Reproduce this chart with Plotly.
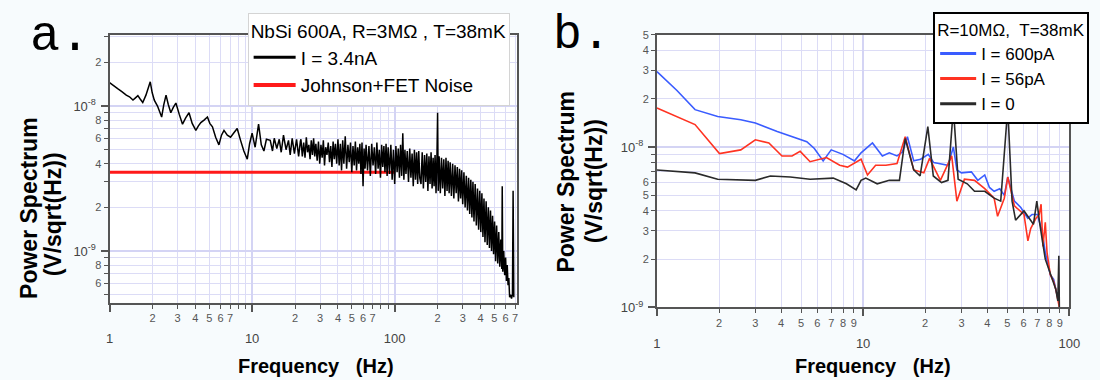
import math
import plotly.graph_objects as go

# ---------------- Panel a : NbSi 600A, R=3MOhm, T=38mK ----------------
# frequency (Hz) and noise (nV/sqrt(Hz))
a_freq = [1, 1.07, 1.14, 1.22, 1.31, 1.38, 1.46, 1.52, 1.58, 1.64, 1.71, 1.8, 1.87, 1.93, 1.99,
          2.06, 2.17, 2.25, 2.32, 2.4, 2.49, 2.58, 2.69, 2.8, 2.92, 3.08, 3.25, 3.42, 3.61, 3.8,
          4.03, 4.2, 4.37, 4.6, 4.86, 5.05, 5.27, 5.55, 5.85, 6.1, 6.35, 6.7, 7.06, 7.5, 7.86,
          8.3, 8.75, 9.25, 9.6, 10, 10.5, 11.1, 11.6, 12.1, 12.6, 13.4, 13.9, 14.3, 14.9, 15.5,
          16.0, 16.6, 17.3, 18.0, 18.5, 19.1, 19.8, 20.5, 21.2, 21.8,
          22, 22.5, 23, 23.5, 24, 24.5, 25, 25.5, 26, 26.5, 27, 27.5, 28,
          28.6, 29.2, 29.8, 30.4, 31, 31.6, 32.2, 32.8, 33.5, 34.2, 34.9, 35.6, 36.3, 37, 37.7,
          38.4, 39.2, 40,
          40.8, 41.6, 42.4, 43.2, 44, 45, 46, 47, 48, 49, 50, 51, 52, 53, 54, 55, 56, 57, 58,
          59, 60, 61, 62, 63,
          64.5, 66, 67.5, 69, 70.5, 72, 73.5, 75, 76.5, 78, 79.5, 81, 82.5, 84, 85.5, 87, 88.5,
          90, 92, 94, 96, 98, 100, 102, 104, 106, 108, 110, 112, 114, 116, 118, 120,
          122.5, 125, 127.5, 130, 132.5, 135, 137.5, 140, 142.5, 145, 147.5, 150,
          153, 156, 159, 162, 165, 168, 171, 174, 177, 180, 183, 186, 189, 192, 195, 198,
          200, 202, 205, 209, 213, 217, 221, 225, 229, 233, 237, 241, 245,
          250, 255, 260, 265, 270, 275, 280, 285, 290, 295, 300,
          306, 312, 318, 324, 330, 336, 342, 348, 354, 360,
          367, 374, 381, 388, 395, 402, 409, 416, 423, 430,
          438, 446, 454, 462, 470, 478, 486, 494, 502, 510,
          519, 528, 537, 546, 555, 564, 568, 573, 582, 591, 600, 608, 616, 624, 632, 640,
          650, 660, 670, 677, 685]
a_noise = [14.5, 13.9, 13.2, 12.6, 11.9, 11.6, 11.0, 11.4, 11.8, 11.2, 10.6, 11.9, 13.2, 14.7, 12.4,
           11.0, 10.0, 9.0, 8.4, 10.2, 11.9, 10.3, 9.0, 9.8, 10.5, 8.8, 7.5, 8.3, 9.0, 7.6,
           6.8, 7.3, 7.7, 8.0, 8.4, 7.6, 7.2, 6.1, 5.4, 6.3, 6.8, 6.3, 6.1, 6.6, 7.0,
           5.8, 4.9, 4.3, 5.5, 6.5, 5.2, 7.5, 5.4, 4.9, 5.9, 5.8, 4.9, 6.0, 5.1, 5.9,
           4.8, 6.3, 5.0, 5.8, 4.6, 6.0, 4.7, 5.9, 4.5, 5.7,
           5.9, 4.5, 5.6, 4.4, 6.1, 4.8, 5.4, 4.3, 5.8, 4.6, 6.0, 4.5, 5.5,
           4.2, 5.7, 4.0, 5.4, 4.4, 5.8, 3.9, 5.2, 4.6, 5.6, 4.1, 5.3, 3.8, 5.7, 4.3,
           5.5, 4.0, 5.9,
           3.9, 5.5, 3.6, 5.8, 4.0, 6.2, 3.7, 5.4, 4.1, 5.6, 3.5, 5.3, 3.9, 5.7, 3.6, 5.2, 4.0, 5.5, 3.4,
           5.6, 2.8, 5.1, 3.7, 5.4,
           3.6, 5.3, 3.3, 5.5, 3.9, 5.2, 3.4, 5.6, 3.7, 5.0, 3.2, 5.4, 3.8, 5.3, 3.5, 5.5, 3.3,
           5.2, 3.4, 5.4, 3.1, 5.0, 2.9, 5.3, 3.5, 5.1, 3.2, 5.4, 3.3, 6.5, 3.1, 5.0, 3.4,
           4.9, 3.0, 5.1, 3.2, 4.7, 2.8, 5.0, 3.1, 4.8, 2.9, 4.9, 3.2,
           2.9, 4.8, 2.7, 4.6, 3.0, 4.7, 2.6, 4.5, 2.9, 4.8, 2.7, 4.4, 2.8, 4.6, 2.5, 4.5,
           9.0, 2.6, 4.5, 2.5, 4.4, 2.7, 4.3, 2.4, 4.4, 2.6, 4.2, 2.5, 4.1,
           2.4, 4.0, 2.3, 3.9, 2.5, 3.8, 2.2, 3.7, 2.3, 3.6, 2.1,
           3.5, 2.0, 3.3, 1.9, 3.2, 1.8, 3.1, 1.7, 3.0, 1.6,
           2.9, 1.5, 2.7, 1.4, 2.6, 1.35, 2.5, 1.25, 2.3, 1.15,
           2.2, 1.1, 2.0, 1.05, 1.9, 1.0, 1.75, 0.95, 1.6, 0.85,
           1.5, 0.82, 1.35, 0.78, 1.2, 0.75, 2.8, 0.72, 1.0, 0.68, 0.9, 0.62, 0.8, 0.58, 0.65, 0.48,
           0.5, 0.47, 0.5, 2.6, 0.48]
johnson_freq = [1, 100]
johnson_noise = [3.5, 3.5]

# ---------------- Panel b : R=10MOhm, T=38mK ----------------
b600_freq = [1, 1.25, 1.53, 1.97, 2.55, 3.0, 3.83, 4.5, 5.33, 5.8, 6.4, 7.0, 7.98, 9.08, 9.77,
             11.1, 12.4, 13.4, 14.6, 15.5, 16.4, 17.6, 19.0, 20.7, 22.0, 23.3, 25.8, 27.4, 28.5,
             30, 33.5, 36, 38.9, 41, 43.2, 46, 48.4, 50.3, 52, 54.2, 58.2, 62.9, 66, 70, 73.8,
             76.5, 80.9, 84, 86, 89.5]
b600_noise = [29.5, 22.5, 17.1, 15.5, 14.8, 14.1, 12.5, 11.7, 10.8, 9.8, 8.2, 9.6, 9.0, 8.2, 9.2,
              10.6, 8.8, 9.2, 8.8, 9.3, 11.6, 8.2, 8.4, 9.0, 8.0, 7.9, 7.7, 10.0, 7.2,
              6.9, 7.0, 6.2, 6.7, 5.6, 5.3, 5.5, 5.0, 6.5, 5.5, 4.6, 4.2, 3.6, 3.8, 3.8, 3.0,
              2.2, 1.6, 1.5, 1.3, 1.05]
b56_freq = [1, 1.25, 1.53, 2.01, 2.55, 3.0, 3.49, 4.04, 4.52, 4.95, 5.53, 6.64, 7.7, 8.4, 9.25,
            9.77, 10.5, 11.5, 12.9, 14.6, 16.0, 17.6, 19.7, 21.0, 23.7, 26.9, 28.5, 31, 34.7,
            38.9, 43.2, 44.9, 48.4, 50.3, 54.2, 60.3, 63, 65, 69, 71.5, 73, 74.5, 76.5, 78,
            80.9, 84, 86, 89.5]
b56_noise = [17.5, 15.5, 13.8, 9.1, 9.6, 11.1, 10.6, 8.8, 8.8, 9.4, 8.1, 8.6, 7.7, 7.5, 8.1,
             8.4, 6.7, 7.7, 7.7, 7.9, 11.6, 7.2, 6.9, 8.5, 6.2, 8.8, 4.6, 6.3, 6.2,
             5.5, 4.8, 3.7, 4.8, 6.5, 4.3, 3.8, 2.6, 3.1, 3.6, 3.8, 4.4, 2.4, 3.4, 2.2,
             1.6, 1.45, 1.3, 1.0]
b0_freq = [1, 1.53, 1.97, 2.55, 3.0, 3.55, 4.43, 5.53, 7.16, 8.3, 9.08, 9.25, 9.77, 10.3, 11.7,
           13.4, 15.0, 16.0, 17.6, 18.9, 20.6, 21.9, 24.0, 25.8, 27.4, 28.9, 32.0, 34.7, 38.9,
           43.2, 46.5, 50.3, 52.8, 54.9, 60.3, 67.0, 69.6, 72.0, 76.5, 81.0, 86.0, 88.0, 89.0, 89.5]
b0_noise = [7.2, 6.9, 6.3, 6.2, 6.2, 6.6, 6.5, 6.3, 6.4, 5.9, 5.5, 5.4, 6.2, 6.4, 5.9,
            6.2, 6.2, 11.3, 7.2, 6.6, 13.4, 6.6, 6.0, 6.2, 17.5, 6.3, 5.9, 5.3, 5.3,
            4.8, 4.6, 17.5, 4.6, 3.5, 4.0, 3.3, 4.6, 3.3, 2.0, 1.6, 1.3, 1.1, 2.1, 1.0]

# tick labels
a_x_minor_labels = [2, 3, 4, 5, 6, 7, 20, 30, 40, 50, 60, 70, 200, 300, 400, 500, 600, 700]
a_x_minor_unlabeled = [8, 9, 80, 90]
b_x_minor_labels = [2, 3, 4, 5, 6, 7, 8, 9, 20, 30, 40, 50, 60, 70, 80, 90]
decades_x_a = [1, 10, 100]
decades_x_b = [1, 10, 100]
decade_x_text = ["1", "10", "100"]
a_y_labels = [2e-8, 8e-9, 6e-9, 4e-9, 2e-9, 8e-10, 6e-10]
a_y_unlabeled = [3e-8, 9e-9, 7e-9, 5e-9, 3e-9, 9e-10, 7e-10, 5e-10]
b_y_labels = [5e-8, 4e-8, 3e-8, 2e-8, 6e-9, 5e-9, 4e-9, 3e-9, 2e-9]
b_y_unlabeled = [9e-9, 8e-9, 7e-9]
y_decades = [1e-9, 1e-8]
y_decade_text = ["10<sup>-9</sup>", "10<sup>-8</sup>"]

NV = 1e-9
W, H = 1100, 380
FONT = "Liberation Sans, Arial, sans-serif"
MONO = "Liberation Mono, Courier New, monospace"
GRID = "#dcdcf6"
AX = "#555555"


def digit(v):
    return ("%g" % v)[0]


fig = go.Figure()

# ---- panel a traces
fig.add_trace(go.Scatter(x=johnson_freq, y=[v * NV for v in johnson_noise], mode="lines",
                         line=dict(color="#ff1a1a", width=3), showlegend=False,
                         xaxis="x", yaxis="y"))
fig.add_trace(go.Scatter(x=a_freq, y=[v * NV for v in a_noise], mode="lines",
                         line=dict(color="black", width=1.5), showlegend=False,
                         xaxis="x", yaxis="y"))
fig.add_trace(go.Scatter(x=[None], y=[None], mode="lines", name="I = 3.4nA",
                         line=dict(color="black", width=3), legend="legend", xaxis="x", yaxis="y"))
fig.add_trace(go.Scatter(x=[None], y=[None], mode="lines", name="Johnson+FET Noise",
                         line=dict(color="#ff1a1a", width=4), legend="legend", xaxis="x", yaxis="y"))

# ---- panel b traces
fig.add_trace(go.Scatter(x=b600_freq, y=[v * NV for v in b600_noise], mode="lines",
                         line=dict(color="#3a5cff", width=1.6), showlegend=False,
                         xaxis="x2", yaxis="y2"))
fig.add_trace(go.Scatter(x=b56_freq, y=[v * NV for v in b56_noise], mode="lines",
                         line=dict(color="#ff3322", width=1.6), showlegend=False,
                         xaxis="x2", yaxis="y2"))
fig.add_trace(go.Scatter(x=b0_freq, y=[v * NV for v in b0_noise], mode="lines",
                         line=dict(color="#2a2a2a", width=1.6), showlegend=False,
                         xaxis="x2", yaxis="y2"))
for nm, col in [("I = 600pA", "#3a5cff"), ("I = 56pA", "#ff3322"), ("I = 0", "#2a2a2a")]:
    fig.add_trace(go.Scatter(x=[None], y=[None], mode="lines", name=nm,
                             line=dict(color=col, width=3), legend="legend2",
                             xaxis="x2", yaxis="y2"))

# empty traces so that the decade-tick overlay axes get drawn
for xa, ya in [("x3", "y"), ("x4", "y2"), ("x", "y3"), ("x2", "y4")]:
    fig.add_trace(go.Scatter(x=[None], y=[None], mode="lines", showlegend=False,
                             hoverinfo="skip", xaxis=xa, yaxis=ya))

xa_dom = [107 / W, 520 / W]
xb_dom = [662 / W, 1080 / W]
ya_dom = [1 - 308 / H, 1 - 30 / H]
yb_dom = [1 - 313 / H, 1 - 30 / H]
xa_rng = [0, math.log10(720)]
xb_rng = [0, 2]
ya_rng = [math.log10(4.4e-10), math.log10(3.1e-8)]
yb_rng = [-9, math.log10(5e-8)]

common = dict(type="log", showline=True, linecolor=AX, linewidth=2, mirror=True,
              ticks="outside", ticklen=4, tickcolor=AX, tickwidth=1,
              showgrid=True, gridcolor=GRID, gridwidth=1, zeroline=False,
              tickfont=dict(family=FONT, size=11, color="#555555"))


def minor(vals):
    return dict(tickvals=vals, ticks="outside", ticklen=4, tickcolor=AX,
                showgrid=True, gridcolor=GRID, gridwidth=1)


def overlay(dom_axis, anchor, rng, vals, text, side, standoff):
    return dict(type="log", overlaying=dom_axis, anchor=anchor, range=rng, side=side,
                tickvals=vals, ticktext=text, ticks="outside", ticklen=8, tickcolor=AX,
                tickwidth=1.5, showgrid=True, gridcolor="#d4d4f4", gridwidth=1.5,
                showline=False, zeroline=False, ticklabelstandoff=standoff,
                tickfont=dict(family=FONT, size=13, color="#444444"))


fig.update_layout(
    width=W, height=H, autosize=False,
    margin=dict(l=0, r=0, t=0, b=0),
    paper_bgcolor="#f7fbfd", plot_bgcolor="white",
    font=dict(family=FONT, color="black"),
    xaxis=dict(domain=xa_dom, anchor="y", range=xa_rng, tickvals=a_x_minor_labels,
               ticktext=[digit(v) for v in a_x_minor_labels], minor=minor(a_x_minor_unlabeled),
               **common),
    yaxis=dict(domain=ya_dom, anchor="x", range=ya_rng, tickvals=a_y_labels,
               ticktext=[digit(v) for v in a_y_labels], minor=minor(a_y_unlabeled), **common),
    xaxis2=dict(domain=xb_dom, anchor="y2", range=xb_rng, tickvals=b_x_minor_labels,
                ticktext=[digit(v) for v in b_x_minor_labels], **common),
    yaxis2=dict(domain=yb_dom, anchor="x2", range=yb_rng, tickvals=b_y_labels,
                ticktext=[digit(v) for v in b_y_labels], minor=minor(b_y_unlabeled), **common),
    xaxis3=overlay("x", "y", xa_rng, decades_x_a, decade_x_text, "bottom", 16),
    xaxis4=overlay("x2", "y2", xb_rng, decades_x_b, decade_x_text, "bottom", 16),
    yaxis3=overlay("y", "x", ya_rng, y_decades, y_decade_text, "left", 2),
    yaxis4=overlay("y2", "x2", yb_rng, y_decades, y_decade_text, "left", 2),
    legend=dict(x=247 / W, y=1 - 7 / H, xanchor="left", yanchor="top", bgcolor="white",
                bordercolor="#d4d4d4", borderwidth=1, tracegroupgap=0, itemwidth=42,
                font=dict(family=FONT, size=19, color="black"),
                title=dict(text="NbSi 600A, R=3MΩ , T=38mK", font=dict(family=FONT, size=19))),
    legend2=dict(x=942 / W, y=1 - 6 / H, xanchor="left", yanchor="top", bgcolor="white",
                 bordercolor="black", borderwidth=2, tracegroupgap=0, itemwidth=36,
                 font=dict(family=FONT, size=17, color="black"),
                 title=dict(text="R=10MΩ,&nbsp; T=38mK", font=dict(family=FONT, size=17))),
)

ann = []


def px_ann(text, x, y, size, angle=0, bold=True, family=FONT, xanchor="center", yanchor="middle"):
    ann.append(dict(text=("<b>%s</b>" % text) if bold else text, x=x / W, y=1 - y / H,
                    xref="paper", yref="paper", showarrow=False, textangle=angle,
                    xanchor=xanchor, yanchor=yanchor,
                    font=dict(family=family, size=size, color="black")))


px_ann("Power Spectrum", 26, 210, 23, angle=-90)
px_ann("(V/sqrt(Hz))", 50, 216, 23, angle=-90)
px_ann("Power Spectrum", 570, 182, 23, angle=-90)
px_ann("(V/sqrt(Hz))", 598, 182, 23, angle=-90)
px_ann("Frequency&nbsp;&nbsp;&nbsp;(Hz)", 316, 374, 20)
px_ann("Frequency&nbsp;&nbsp;&nbsp;(Hz)", 881, 374, 20)
px_ann("a.", 24, 32, 50, bold=False, family=MONO, xanchor="left")
px_ann("b.", 555, 0, 48, bold=False, family=MONO, xanchor="left", yanchor="top")
fig.update_layout(annotations=ann)

fig.write_html("out.html", config={"displayModeBar": False},
               post_script="document.body.style.margin='0';")
